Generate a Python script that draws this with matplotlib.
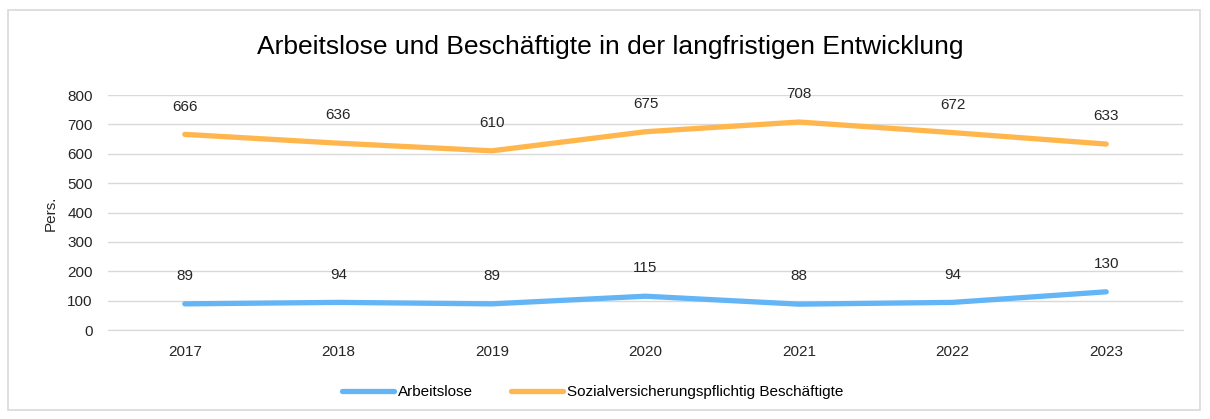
import matplotlib
matplotlib.use("Agg")
import matplotlib.pyplot as plt
from matplotlib.patches import Rectangle

plt.rcParams['font.family'] = ['Liberation Sans', 'DejaVu Sans']

# data
years = ['2017', '2018', '2019', '2020', '2021', '2022', '2023']
arbeitslose = [89, 94, 89, 115, 88, 94, 130]
beschaeftigte = [666, 636, 610, 675, 708, 672, 633]

blue = '#64B5F6'
orange = '#FFB74D'

fig = plt.figure(figsize=(12.1, 4.19), dpi=100)
fig.patches.append(Rectangle((8 / 1210, 1 - 410 / 419), 1192 / 1210, 400 / 419,
                             transform=fig.transFigure, fill=False,
                             edgecolor='#D9D9D9', linewidth=1.2))

ax = fig.add_axes([108 / 1210, 1 - 330 / 419, 1075 / 1210, 235 / 419])
x = list(range(len(years)))

ax.plot(x, arbeitslose, color=blue, linewidth=3.8, solid_capstyle='round',
        label='Arbeitslose', zorder=3)
ax.plot(x, beschaeftigte, color=orange, linewidth=3.8, solid_capstyle='round',
        label='Sozialversicherungspflichtig Beschäftigte', zorder=3)

for xi, v in zip(x, arbeitslose):
    ax.annotate(str(v), (xi, v), xytext=(0, 20), textcoords='offset points',
                ha='center', va='center', fontsize=11, color='#262626')
for xi, v in zip(x, beschaeftigte):
    ax.annotate(str(v), (xi, v), xytext=(0, 20), textcoords='offset points',
                ha='center', va='center', fontsize=11, color='#262626')

ax.set_xlim(-0.5, len(years) - 0.5)
ax.set_ylim(0, 800)
ax.set_yticks(range(0, 801, 100))
ax.set_xticks(x)
ax.set_xticklabels(years)
ax.tick_params(length=0, labelsize=11, colors='#262626', pad=11)
ax.tick_params(axis='y', pad=11)
ax.grid(axis='y', color='#D9D9D9', linewidth=1)
ax.set_axisbelow(True)
for s in ['top', 'right', 'left']:
    ax.spines[s].set_visible(False)
ax.spines['bottom'].set_color('#D9D9D9')

fig.text(51 / 1210, 1 - 213 / 419, 'Pers.', rotation=90, ha='center', va='center',
         fontsize=11, color='#262626')

fig.text(0.504, 1 - 47 / 419, 'Arbeitslose und Beschäftigte in der langfristigen Entwicklung',
         ha='center', va='center', fontsize=19, color='#000000')

fig.legend(loc='center', bbox_to_anchor=(0.49, 1 - 392 / 419), ncol=2, frameon=False,
           fontsize=11, handlelength=3.4, columnspacing=2.5, handletextpad=0.25)

fig.savefig('out.png', dpi=100)
